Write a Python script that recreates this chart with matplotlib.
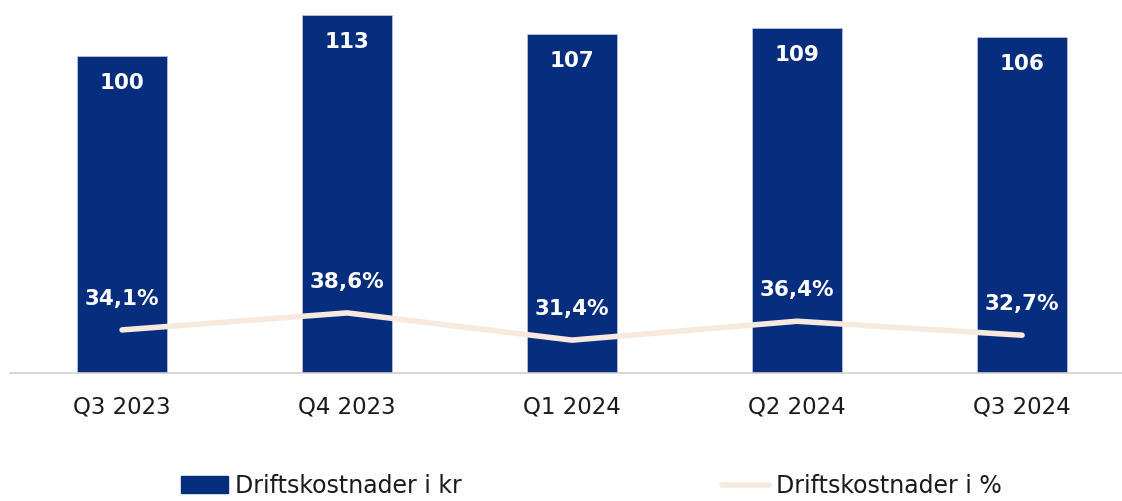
import matplotlib
matplotlib.use("Agg")
import matplotlib.pyplot as plt
from matplotlib.patches import Patch
from matplotlib.lines import Line2D

categories = ["Q3 2023", "Q4 2023", "Q1 2024", "Q2 2024", "Q3 2024"]
cost_kr = [100, 113, 107, 109, 106]
cost_pct = [34.1, 38.6, 31.4, 36.4, 32.7]
pct_labels = ["34,1%", "38,6%", "31,4%", "36,4%", "32,7%"]
legend_labels = ["Driftskostnader i kr", "Driftskostnader i %"]

BAR = "#062d7e"
LINE = "#f7e9de"

plt.rcParams['font.family'] = ['DejaVu Sans']
fig = plt.figure(figsize=(11.22, 5.01), dpi=100)
ax = fig.add_axes([0.0085, 0.2555, 1 - 0.0085, 0.7445])
x = list(range(len(categories)))
ax.bar(x, cost_kr, width=0.4, color=BAR, edgecolor="#b8c0dc", linewidth=0.6, zorder=2)
ax.set_xlim(-0.5, 4.444)
ax.set_ylim(0, 117.7)
for s in ["top", "right", "left"]:
    ax.spines[s].set_visible(False)
ax.spines["bottom"].set_color("#d0d0d0")
ax.spines["bottom"].set_linewidth(1.2)
ax.set_yticks([])
ax.set_xticks(x)
ax.set_xticklabels(categories, fontsize=16.5, color="#1a1a1a")
ax.tick_params(axis="x", length=0, pad=16)

for xi, v in zip(x, cost_kr):
    ax.annotate(str(v), (xi, v), xytext=(0, -27), textcoords="offset pixels",
                ha="center", va="center", color="white", fontsize=15.5, fontweight="bold", zorder=5)

ax2 = ax.twinx()
ax2.set_ylim(22.7, 121.4)
ax2.plot(x, cost_pct, color=LINE, linewidth=4, solid_capstyle="round", zorder=3)
ax2.axis("off")
for xi, v, t in zip(x, cost_pct, pct_labels):
    ax2.annotate(t, (xi, v), xytext=(0, 31), textcoords="offset pixels",
                 ha="center", va="center", color="white", fontsize=15.5, fontweight="bold", zorder=5)

handles = [Patch(facecolor=BAR, edgecolor=BAR),
           Line2D([0], [0], color=LINE, linewidth=4, solid_capstyle="round")]
fig.legend(handles, legend_labels, loc="center", bbox_to_anchor=(0.527, 0.03),
           ncol=2, frameon=False, fontsize=17, columnspacing=11.0, handlelength=2.0,
           handletextpad=0.3, labelcolor="#1a1a1a")

fig.savefig("out.png", dpi=100)
